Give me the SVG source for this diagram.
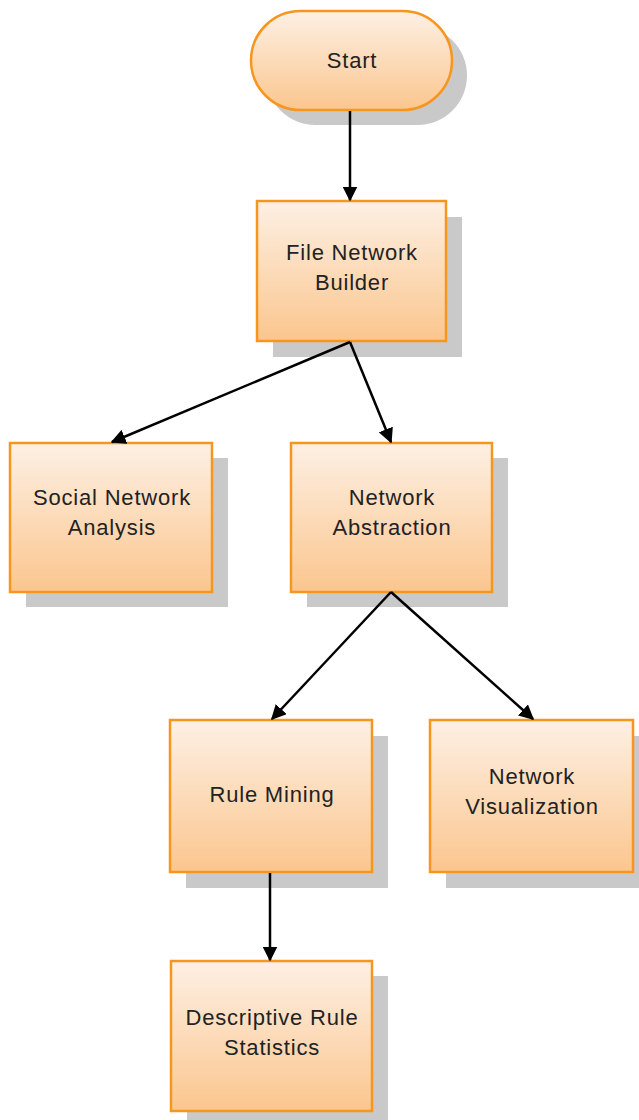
<svg xmlns="http://www.w3.org/2000/svg" width="639" height="1120" viewBox="0 0 639 1120">
  <defs>
    <linearGradient id="fill" x1="0" y1="0" x2="0" y2="1">
      <stop offset="0" stop-color="#fdf0e4"/>
      <stop offset="1" stop-color="#fbc68e"/>
    </linearGradient>
    <marker id="arrow" viewBox="0 0 10 10" refX="9" refY="5" markerWidth="6" markerHeight="6" markerUnits="strokeWidth" orient="auto">
      <path d="M0,0 L10,5 L0,10 z" fill="#000"/>
    </marker>
  </defs>
  <style>
    .shadow { fill: #c9c9c9; }
    .box { fill: url(#fill); stroke: #f7961f; stroke-width: 2.5; }
    .label { font-family: "Liberation Sans", Arial, sans-serif; font-size: 22px; letter-spacing: 0.8px; fill: #222; text-anchor: middle; }
    .edge { fill: none; stroke: #000; stroke-width: 2.5; marker-end: url(#arrow); }
  </style>

  <g id="start">
    <rect class="shadow" x="266" y="26" width="201" height="99" rx="49.5"/>
    <rect class="box" x="251" y="11" width="201" height="99" rx="49.5"/>
    <text class="label" x="352" y="68">Start</text>
  </g>

  <g id="file-network-builder">
    <rect class="shadow" x="273" y="217" width="189" height="140"/>
    <rect class="box" x="257" y="201" width="189" height="140"/>
    <text class="label" x="352" y="260">File Network</text>
    <text class="label" x="352" y="290">Builder</text>
  </g>

  <g id="social-network-analysis">
    <rect class="shadow" x="26" y="458" width="202" height="149"/>
    <rect class="box" x="10" y="443" width="202" height="149"/>
    <text class="label" x="112" y="505">Social Network</text>
    <text class="label" x="112" y="535">Analysis</text>
  </g>

  <g id="network-abstraction">
    <rect class="shadow" x="307" y="458" width="201" height="149"/>
    <rect class="box" x="291" y="443" width="201" height="149"/>
    <text class="label" x="392" y="505">Network</text>
    <text class="label" x="392" y="535">Abstraction</text>
  </g>

  <g id="rule-mining">
    <rect class="shadow" x="186" y="736" width="202" height="152"/>
    <rect class="box" x="170" y="720" width="202" height="152"/>
    <text class="label" x="272" y="802">Rule Mining</text>
  </g>

  <g id="network-visualization">
    <rect class="shadow" x="446" y="736" width="203" height="152"/>
    <rect class="box" x="430" y="720" width="203" height="152"/>
    <text class="label" x="532" y="784">Network</text>
    <text class="label" x="532" y="814">Visualization</text>
  </g>

  <g id="descriptive-rule-statistics">
    <rect class="shadow" x="187" y="976" width="201" height="150"/>
    <rect class="box" x="171" y="961" width="201" height="150"/>
    <text class="label" x="272" y="1025">Descriptive Rule</text>
    <text class="label" x="272" y="1055">Statistics</text>
  </g>

  <g id="connectors">
    <line class="edge" x1="350" y1="111" x2="350" y2="200"/>
    <line class="edge" x1="350" y1="342" x2="112" y2="442"/>
    <line class="edge" x1="350" y1="342" x2="391" y2="442"/>
    <line class="edge" x1="391" y1="592" x2="272" y2="719"/>
    <line class="edge" x1="391" y1="592" x2="533" y2="719"/>
    <line class="edge" x1="270" y1="873" x2="270" y2="960"/>
  </g>
</svg>
